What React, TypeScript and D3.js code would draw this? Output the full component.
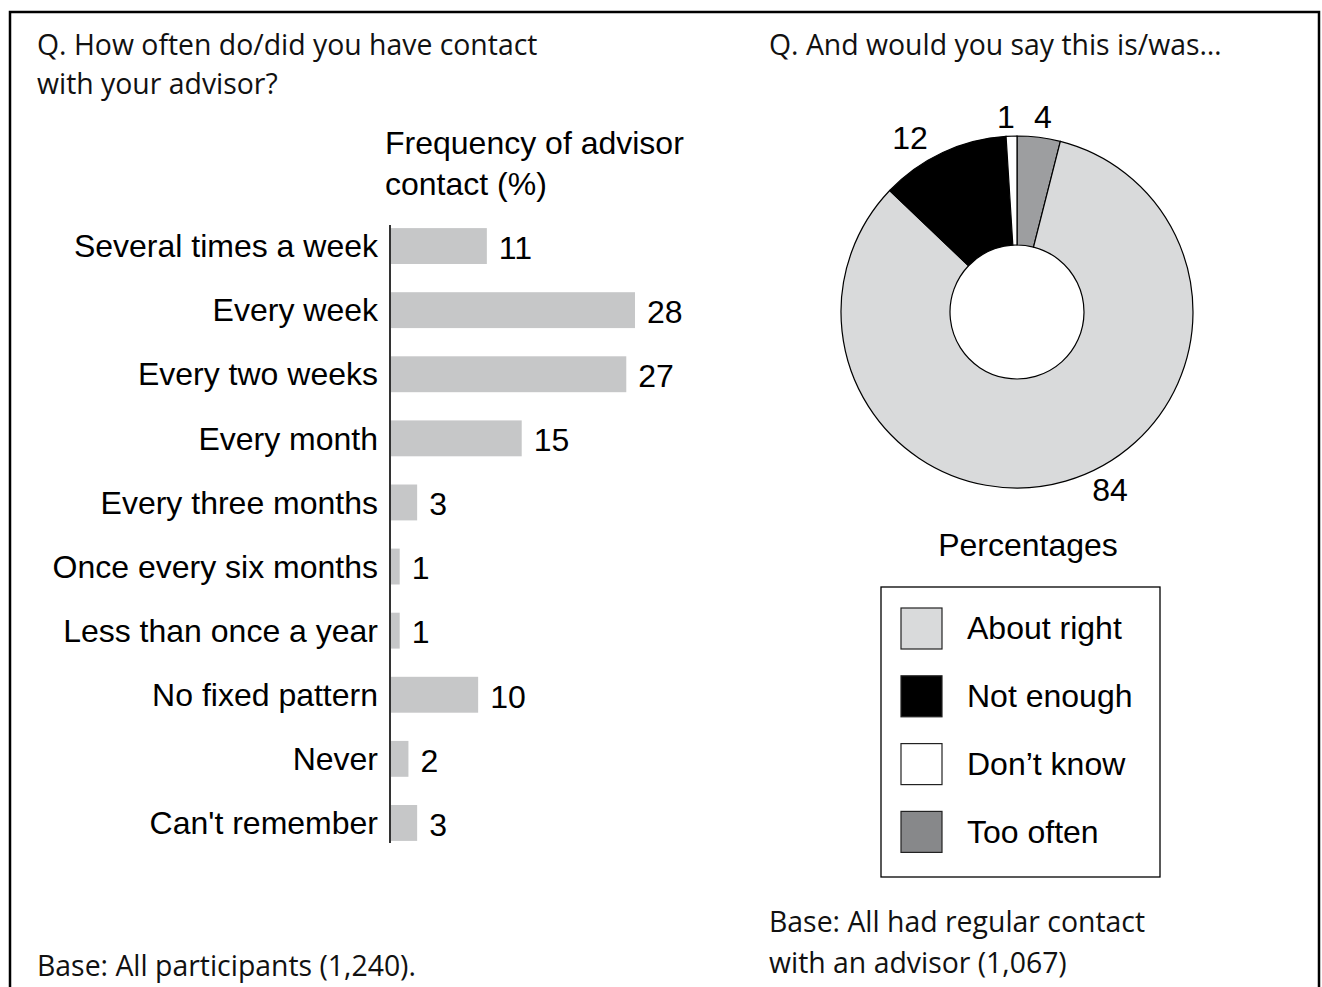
import React from "react";
import * as d3 from "d3";

const categories = [
  "Several times a week",
  "Every week",
  "Every two weeks",
  "Every month",
  "Every three months",
  "Once every six months",
  "Less than once a year",
  "No fixed pattern",
  "Never",
  "Can't remember",
];
const frequencyValues = [11, 28, 27, 15, 3, 1, 1, 10, 2, 3];

const pieLabels = ["Too often", "About right", "Not enough", "Don\u2019t know"];
const pieValues = [4, 84, 12, 1];
const pieColors = ["#9d9ea0", "#d9dadb", "#000000", "#ffffff"];

const legendLabels = ["About right", "Not enough", "Don\u2019t know", "Too often"];
const legendColors = ["#d9dadb", "#000000", "#ffffff", "#87888a"];

const W = 1322;
const H = 987;
const ARIAL = "'Liberation Sans', Arial, sans-serif";
const HUMANIST = "'Open Sans', 'Noto Sans', sans-serif";

export default function App() {
  const x = d3.scaleLinear().domain([0, 28]).range([391, 635]);
  const y = d3.scaleBand().domain(categories).range([214, 855]).paddingInner(0.44).paddingOuter(0.22);

  const cx = 1017;
  const cy = 312;
  const outerR = 176;
  const innerR = 67;
  const pie = d3.pie<number>().sort(null).value((d) => d)(pieValues);
  const arc = d3.arc<d3.PieArcDatum<number>>().innerRadius(innerR).outerRadius(outerR);
  const labelPos: [number, number][] = [
    [1043, 117],
    [1110, 490],
    [910, 138],
    [1006, 117],
  ];

  return (
    <div style={{ position: "fixed", left: 0, top: 0, width: W, height: H, overflow: "hidden" }}>
      <svg width={W} height={H} style={{ display: "block", background: "#fff" }}>
        <path d={`M10,${H + 5} V12 H1319 V${H + 5}`} fill="none" stroke="#000" strokeWidth={2.5} />

        <g fontFamily={HUMANIST} fontSize={28.4} fill="#111">
          <text x={37} y={55}>Q. How often do/did you have contact</text>
          <text x={37} y={94}>with your advisor?</text>
          <text x={769} y={55}>Q. And would you say this is/was…</text>
          <text x={37} y={976}>Base: All participants (1,240).</text>
          <text x={769} y={932}>Base: All had regular contact</text>
          <text x={769} y={973}>with an advisor (1,067)</text>
        </g>

        <g fontFamily={ARIAL} fontSize={32} fill="#000">
          <text x={385} y={154}>Frequency of advisor</text>
          <text x={385} y={195}>contact (%)</text>
        </g>

        {frequencyValues.map((v, i) => (
          <rect
            key={categories[i]}
            x={x(0)}
            y={y(categories[i])!}
            width={x(v) - x(0)}
            height={y.bandwidth()}
            fill="#c6c7c8"
          />
        ))}
        <line x1={390} x2={390} y1={225} y2={843} stroke="#333" strokeWidth={2} />
        <g fontFamily={ARIAL} fontSize={32} fill="#000">
          {categories.map((c) => (
            <text key={c} x={378} y={y(c)! + y.bandwidth() / 2} dy="0.35em" textAnchor="end">
              {c}
            </text>
          ))}
          {frequencyValues.map((v, i) => (
            <text key={i} x={x(v) + 12} y={y(categories[i])! + y.bandwidth() / 2} dy="0.4em">
              {v}
            </text>
          ))}
        </g>

        <g transform={`translate(${cx},${cy})`}>
          {pie.map((p, i) => (
            <path key={pieLabels[i]} d={arc(p)!} fill={pieColors[i]} stroke="#000" strokeWidth={1.2} />
          ))}
        </g>
        <g fontFamily={ARIAL} fontSize={32} fill="#000" textAnchor="middle">
          {pie.map((p, i) => (
            <text key={i} x={labelPos[i][0]} y={labelPos[i][1]} dy="0.35em">
              {pieValues[i]}
            </text>
          ))}
          <text x={1028} y={545} dy="0.35em">Percentages</text>
        </g>

        <rect x={881} y={587} width={279} height={290} fill="#fff" stroke="#000" strokeWidth={1.3} />
        <g fontFamily={ARIAL} fontSize={32} fill="#000">
          {legendLabels.map((l, i) => (
            <g key={l} transform={`translate(901,${608 + i * 67.8})`}>
              <rect x={0} y={0} width={41} height={41} fill={legendColors[i]} stroke="#222" strokeWidth={1.2} />
              <text x={66} y={20} dy="0.35em">{l}</text>
            </g>
          ))}
        </g>
      </svg>
    </div>
  );
}
